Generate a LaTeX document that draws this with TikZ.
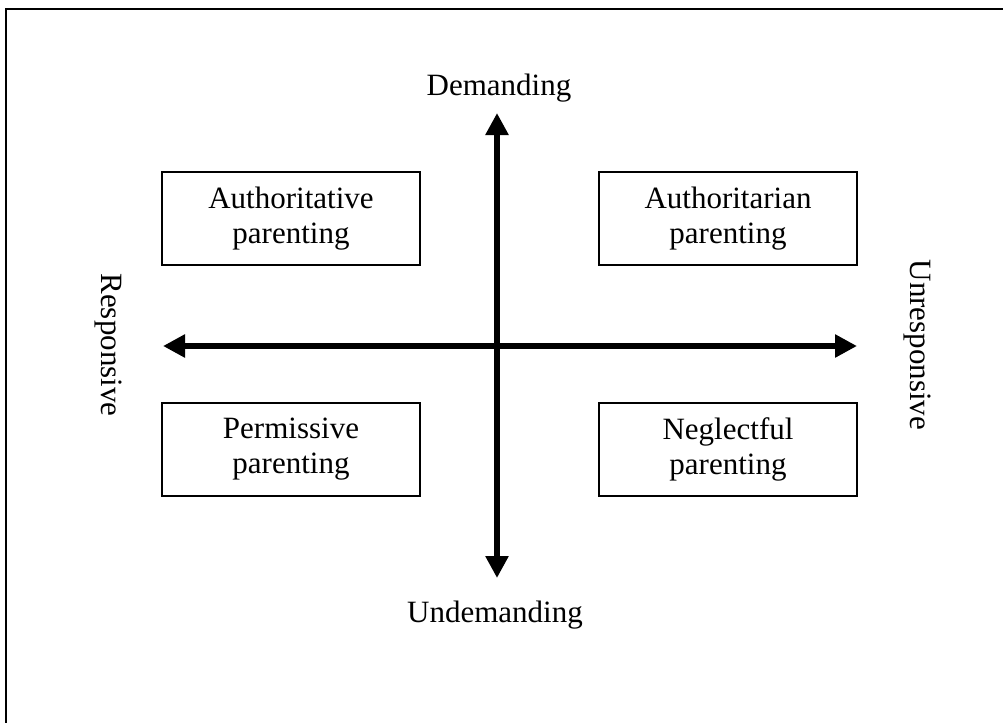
\documentclass[tikz,border=0pt]{standalone}
\usepackage{fontspec}
\setmainfont{Liberation Serif}
\usetikzlibrary{arrows.meta}
\begin{document}
\begin{tikzpicture}[x=1pt,y=-1pt,
  stylebox/.style={draw,line width=2pt,minimum width=258pt,minimum height=93pt,align=center,inner sep=0pt,font=\fontsize{31}{35}\selectfont},
  axislabel/.style={font=\fontsize{31}{35}\selectfont,inner sep=0pt},
  axis/.style={line width=6.5pt,{Triangle[length=22pt,width=22pt]}-{Triangle[length=22pt,width=22pt]}}]
\useasboundingbox (0,0) rectangle (1003,723);
\coordinate (tl) at (6,9);
\coordinate (tr) at (1003,9);
\coordinate (bl) at (6,723);
\draw[line width=2.5pt] (tr) -- (tl) -- (bl);
\coordinate (top) at (497,113);
\coordinate (bot) at (497,578);
\coordinate (lft) at (163,346);
\coordinate (rgt) at (857,346);
\draw[axis] (bot) -- (top);
\draw[axis] (lft) -- (rgt);
\node[axislabel,anchor=base] (dem) at (499,95) {Demanding};
\node[axislabel,anchor=base] (undem) at (495,622) {Undemanding};
\node[axislabel,rotate=-90] (resp) at (108,345) {Responsive};
\node[axislabel,rotate=-90] (unresp) at (917,345) {Unresponsive};
\node[stylebox] (a1) at (291,218.5) {Authoritative\\parenting};
\node[stylebox] (a2) at (728,218.5) {Authoritarian\\parenting};
\node[stylebox] (p1) at (291,449.5) {Permissive\\parenting};
\node[stylebox] (n1) at (728,449.5) {Neglectful\\parenting};
\end{tikzpicture}
\end{document}
